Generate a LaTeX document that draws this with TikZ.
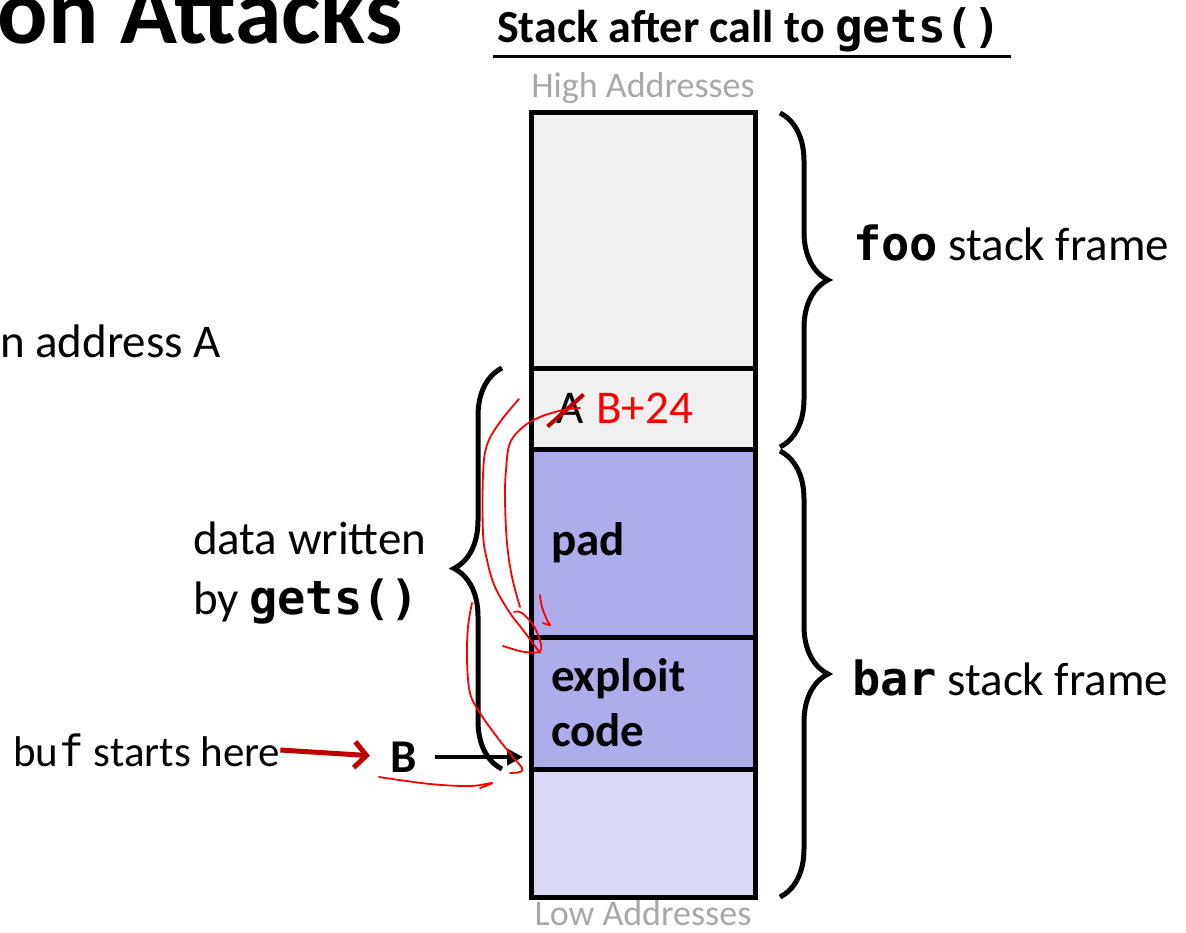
\documentclass[tikz,border=0pt]{standalone}
\usepackage{fontspec}
\setmainfont{Carlito}
\setmonofont{DejaVu Sans Mono}
\usetikzlibrary{positioning,decorations.pathreplacing,arrows.meta}
\definecolor{cellgray}{RGB}{240,240,240}
\definecolor{padblue}{RGB}{173,173,235}
\definecolor{lowblue}{RGB}{216,216,244}
\definecolor{addrgray}{RGB}{168,168,168}
\definecolor{hand}{RGB}{255,0,0}
\definecolor{darkred}{RGB}{192,0,0}

\begin{document}
\begin{tikzpicture}[x=1pt, y=-1pt,
   every node/.style={inner sep=0pt, outer sep=0pt},
   txt/.style={font=\fontsize{47}{55}\selectfont},
   boldtxt/.style={font=\fontsize{47}{55}\selectfont\bfseries},
   addr/.style={font=\fontsize{36}{40}\selectfont, text=addrgray},
   cell/.style={draw, line width=5pt, minimum width=224pt, text width=184pt,
                inner xsep=20pt, align=left, boldtxt},
   brc/.style={decorate, decoration={brace, amplitude=48pt}, line width=5pt},
   ptr/.style={line width=4pt, -{Triangle[length=16pt, width=16pt]}},
   redptr/.style={draw=darkred, line width=5pt, -{Straight Barb[length=12pt, width=26pt]}},
   scribble/.style={draw=hand, line width=1.8pt, line cap=round, line join=round}]
\useasboundingbox (0,0) rectangle (1186,933);

\node[font=\fontsize{94}{100}\selectfont\bfseries, anchor=base west] (heading) at (-2,44) {on Attacks};
\node[txt, anchor=base west] (retaddr) at (0,357) {n address A};
\node[font=\fontsize{46}{50}\selectfont\bfseries, anchor=base west] (title) at (497,43) {Stack after call to \texttt{gets()}};
\draw[line width=3pt] ([shift={(-4,4)}]title.south west) -- ([shift={(10,4)}]title.south east);

% stack
\node[cell, fill=cellgray, minimum height=255pt] (top) at (643,240.5) {};
\node[cell, fill=cellgray, minimum height=81pt, below=0pt of top] (slotA) {};
\node[cell, fill=padblue, minimum height=188pt, below=0pt of slotA] (pad) {pad};
\node[cell, fill=padblue, minimum height=132pt, below=0pt of pad] (exploit) {exploit\\code};
\node[cell, fill=lowblue, minimum height=128pt, below=0pt of exploit] (low) {};

\node[addr, above=9pt of top] (high) {High Addresses};
\node[addr, below=3pt of low] (lowaddr) {Low Addresses};

\node[txt, right=25pt of slotA.west] (oldA) {A};
\node[txt, text=hand, right=13pt of oldA] (newA) {B+24};
\draw[darkred, line width=4pt] ([shift={(-22,18)}]oldA.center) -- ([shift={(14,-14)}]oldA.center);

% braces
\draw[brc] ([xshift=25pt]top.north east) -- ([shift={(25,-2)}]slotA.south east);
\draw[brc] ([shift={(25,2)}]pad.north east) -- ([xshift=25pt]low.south east);
\draw[brc] ([xshift=-29pt]low.north west) -- ([xshift=-29pt]slotA.north west);

\node[txt, anchor=west] (foolbl) at (853,243) {\texttt{\bfseries foo} stack frame};
\node[txt, anchor=west] (barlbl) at (852,678) {\texttt{\bfseries bar} stack frame};
\node[font=\fontsize{47}{60}\selectfont, align=left, anchor=west] (written) at (193,573) {data written\\by \texttt{\bfseries gets()}};

% buf pointer
\node[boldtxt] (B) at (404,757) {B};
\coordinate (bufaddr) at (523,757);
\draw[ptr, shorten <=18pt] (B) -- (bufaddr);
\node[font=\fontsize{43}{50}\selectfont, anchor=west] (bufnote) at (13,750) {bu\texttt{f} starts here};
\draw[redptr, shorten >=21pt] (bufnote.east) -- (B.west);

% hand drawn notes
\draw[scribble] plot[smooth, tension=0.6] coordinates {(519,399) (500,422) (487,445) (483,475) (483,533) (487,560) (495,587) (510,613) (523,630) (540,653)};
\draw[scribble] plot[smooth, tension=0.6] coordinates {(514,612) (522,613) (535,628) (541,650) (525,652) (503,646)};
\draw[scribble] plot[smooth, tension=0.6] coordinates {(580,408) (563,410) (540,417) (523,427) (510,443) (506,470) (505,500) (507,543) (512,577) (520,607)};
\draw[scribble] plot[smooth, tension=0.6] coordinates {(540,595) (542,607) (547,620) (550,625) (543,623)};
\draw[scribble] plot[smooth, tension=0.6] coordinates {(472,603) (468,627) (467,660) (470,693) (480,713) (497,737) (513,757) (522,768) (520,772) (510,773)};
\draw[scribble] plot[smooth, tension=0.6] coordinates {(379,777) (430,784) (470,786) (492,783) (480,788)};
\end{tikzpicture}
\end{document}
